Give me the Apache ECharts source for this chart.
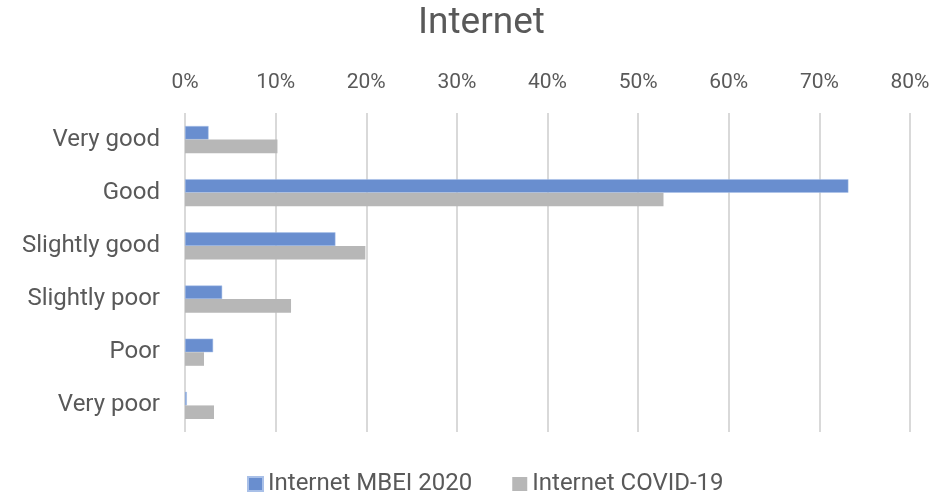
<!DOCTYPE html>
<html><head><meta charset="utf-8">
<script src="https://cdn.jsdelivr.net/npm/echarts@6/dist/echarts.min.js"></script>
<style>html,body{margin:0;padding:0;background:#fff}#c{width:940px;height:495px}</style>
</head><body><div id="c"></div>
<script>
const categories = ['Very good','Good','Slightly good','Slightly poor','Poor','Very poor'];
const mbei2020 = [2.6, 73.2, 16.6, 4.1, 3.1, 0.2];
const covid19 = [10.2, 52.8, 19.9, 11.7, 2.1, 3.2];
const seriesNames = ['Internet MBEI 2020','Internet COVID-19'];
const titleText = 'Internet';

const chart = echarts.init(document.getElementById('c'));
const font = 'Roboto';
chart.setOption({
  animation:false,
  title:{text:titleText,left:413,top:0,textStyle:{fontFamily:font,fontSize:37,fontWeight:'normal',color:'#595959'}},
  legend:{top:467,left:242,itemWidth:15,itemHeight:14,itemGap:40,icon:'rect',
    textStyle:{fontFamily:font,fontSize:24,color:'#595959'},data:seriesNames},
  grid:{left:185,right:30,top:113,bottom:63,containLabel:false},
  xAxis:{type:'value',position:'top',min:0,max:80,interval:10,
    axisLabel:{formatter:'{value}%',fontFamily:font,fontSize:21,color:'#595959',margin:20},
    axisLine:{show:false},axisTick:{show:false},
    splitLine:{lineStyle:{color:'#d9d9d9',width:2}}},
  yAxis:{type:'category',data:categories,inverse:true,
    axisLabel:{fontFamily:font,fontSize:24,color:'#595959',margin:25},
    axisLine:{show:false},axisTick:{show:false}},
  series:[
    {name:seriesNames[0],type:'bar',data:mbei2020,barGap:'0%',barCategoryGap:'49%',
      itemStyle:{color:'#698ECF',borderColor:'#a9c0e8',borderWidth:0.5}},
    {name:seriesNames[1],type:'bar',data:covid19,barGap:'0%',barCategoryGap:'49%',
      itemStyle:{color:'#B7B7B7'}}
  ]
});
</script></body></html>
